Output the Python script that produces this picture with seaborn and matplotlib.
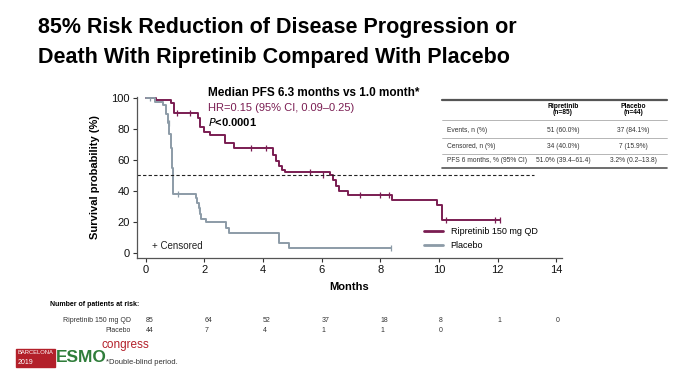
import numpy as np
import pandas as pd
import matplotlib.pyplot as plt
import matplotlib.transforms as mtransforms
from matplotlib.lines import Line2D
from matplotlib.patches import Rectangle
import seaborn as sns

# KM step points (time in months, survival %)
rip_t = [0, 0.35, 0.85, 0.95, 1.77, 1.85, 2.0, 2.2, 2.7, 3.0, 4.35, 4.45, 4.55,
         4.65, 4.75, 6.3, 6.4, 6.5, 6.6, 6.9, 8.4, 9.95, 10.1, 12.1]
rip_s = [100, 98.8, 96.5, 90.5, 87, 81, 78, 76, 71, 68, 63, 59, 56,
         53.5, 52, 50, 47, 43, 40, 37.5, 34, 31, 21, 21]
rip_cens_t = [1.05, 1.5, 3.6, 4.1, 5.6, 6.05, 7.3, 8.0, 8.3, 10.25, 11.9, 12.1]
rip_cens_s = [90.5, 90.5, 68, 68, 52, 50, 37.5, 37.5, 37.5, 21, 21, 21]

pla_t = [0, 0.3, 0.6, 0.7, 0.75, 0.8, 0.85, 0.9, 0.93, 1.7, 1.75, 1.8, 1.85,
         1.9, 2.05, 2.72, 2.83, 4.53, 4.9, 8.35]
pla_s = [100, 97.7, 95.4, 90, 84, 77, 68, 55, 38, 35.5, 32, 29, 25,
         22, 19.5, 16, 13, 6.5, 3.2, 3.2]
pla_cens_t = [0.15, 0.78, 1.1, 1.8, 8.35]
pla_cens_s = [100, 84, 38, 29, 3.2]

months = [0, 2, 4, 6, 8, 10, 12, 14]
risk_rip = ["85", "64", "52", "37", "18", "8", "1", "0"]
risk_pla = ["44", "7", "4", "1", "1", "0"]

tbl_rows = ["Events, n (%)", "Censored, n (%)", "PFS 6 months, % (95% CI)"]
tbl_rip = ["51 (60.0%)", "34 (40.0%)", "51.0% (39.4\u201361.4)"]
tbl_pla = ["37 (84.1%)", "7 (15.9%)", "3.2% (0.2\u201313.8)"]

PURPLE = "#7a1d52"
GREY = "#8c9ba7"

sns.set_theme(style="ticks")
plt.rcParams["font.family"] = ["Liberation Sans", "DejaVu Sans"]
plt.rcParams["text.color"] = "black"
plt.rcParams["axes.labelcolor"] = "black"

fig = plt.figure(figsize=(6.8, 3.74), dpi=100)
W, H = 680, 374


def fx(px):
    return px / W


def fy(py):
    return 1 - py / H


ax = fig.add_axes([fx(137), fy(258), fx(562) - fx(137), fy(96.5) - fy(258)])

rip = pd.DataFrame({"t": rip_t, "s": rip_s})
pla = pd.DataFrame({"t": pla_t, "s": pla_s})
sns.lineplot(data=rip, x="t", y="s", drawstyle="steps-post", color=PURPLE,
             lw=1.4, ax=ax, label="Ripretinib 150 mg QD", estimator=None)
sns.lineplot(data=pla, x="t", y="s", drawstyle="steps-post", color=GREY,
             lw=1.4, ax=ax, label="Placebo", estimator=None)
sns.scatterplot(x=rip_cens_t, y=rip_cens_s, marker="|", s=22, color=PURPLE,
                linewidth=0.9, ax=ax, legend=False)
sns.scatterplot(x=pla_cens_t, y=pla_cens_s, marker="|", s=22, color=GREY,
                linewidth=0.9, ax=ax, legend=False)

ax.plot([-0.3, 13.25], [50, 50], ls=(0, (3, 2)), color="#222222", lw=0.8)

ax.set_xlim(-0.3, 14.2)
ax.set_ylim(-3.5, 101)
ax.set_xticks(months)
ax.set_yticks([0, 20, 40, 60, 80, 100])
ax.tick_params(labelsize=8, length=3, width=0.8, colors="#333333", pad=2)
ax.tick_params(labelcolor="#111111")
for sp in ["left", "bottom"]:
    ax.spines[sp].set_color("#555555")
    ax.spines[sp].set_linewidth(0.9)
sns.despine(ax=ax)
ax.set_xlabel("Months", fontsize=8, fontweight="bold", labelpad=5)
ax.set_ylabel("Survival probability (%)", fontsize=8, fontweight="bold", labelpad=8)

leg = ax.legend(loc="lower left", bbox_to_anchor=(0.655, 0.0), frameon=False,
                fontsize=6.5, handlelength=2.2, labelspacing=0.5)
for h in leg.get_lines():
    h.set_linewidth(2)

ax.text(0.2, 2.5, "+ Censored", fontsize=7, color="#222222")

# annotations
fig.text(fx(208), fy(93), "Median PFS 6.3 months vs 1.0 month*", fontsize=8.5,
         fontweight="bold", va="center")
fig.text(fx(208), fy(108), "HR=0.15 (95% CI, 0.09\u20130.25)", fontsize=8,
         color=PURPLE, va="center")
fig.text(fx(208), fy(122), r"$\bf{\it{P}}$" + "<0.0001", fontsize=8,
         fontweight="bold", va="center")

# title
fig.text(fx(38), fy(27), "85% Risk Reduction of Disease Progression or",
         fontsize=15.5, fontweight="bold", va="center")
fig.text(fx(38), fy(57), "Death With Ripretinib Compared With Placebo",
         fontsize=15.5, fontweight="bold", va="center")

# table at upper right
for y, lw, c in [(100, 1.6, "#555555"), (120, 0.5, "#999999"), (138, 0.5, "#999999"),
                 (154, 0.5, "#999999"), (168, 1.2, "#555555")]:
    fig.add_artist(Line2D([fx(442), fx(667)], [fy(y), fy(y)], lw=lw, color=c))
fig.text(fx(563), fy(106), "Ripretinib", fontsize=4.8, fontweight="bold", ha="center", va="center")
fig.text(fx(563), fy(113), "(n=85)", fontsize=4.8, fontweight="bold", ha="center", va="center")
fig.text(fx(633), fy(106), "Placebo", fontsize=4.8, fontweight="bold", ha="center", va="center")
fig.text(fx(633), fy(113), "(n=44)", fontsize=4.8, fontweight="bold", ha="center", va="center")
for i, y in enumerate([130, 146, 161]):
    fig.text(fx(447), fy(y), tbl_rows[i], fontsize=4.8, va="center", color="#333333")
    fig.text(fx(563), fy(y), tbl_rip[i], fontsize=4.8, ha="center", va="center", color="#333333")
    fig.text(fx(633), fy(y), tbl_pla[i], fontsize=4.8, ha="center", va="center", color="#333333")

# number at risk
trans = mtransforms.blended_transform_factory(ax.transData, fig.transFigure)
fig.text(fx(50), fy(305), "Number of patients at risk:", fontsize=5, fontweight="bold",
         va="center")
fig.text(fx(131), fy(321), "Ripretinib 150 mg QD", fontsize=5, ha="right", va="center",
         color="#333333")
fig.text(fx(131), fy(331), "Placebo", fontsize=5, ha="right", va="center", color="#333333")
for m, v in zip(months, risk_rip):
    ax.text(m, fy(321), v, transform=trans, fontsize=5, va="center", color="#333333")
for m, v in zip(months, risk_pla):
    ax.text(m, fy(331), v, transform=trans, fontsize=5, va="center", color="#333333")

# congress logo
fig.add_artist(Rectangle((fx(16), fy(367)), fx(55) - fx(16), fy(349) - fy(367),
                         color="#b3202a", transform=fig.transFigure))
fig.text(fx(18), fy(353), "BARCELONA", fontsize=4.2, color="white", va="center")
fig.text(fx(18), fy(362), "2019", fontsize=5, color="white", va="center")
fig.text(fx(56), fy(358), "ESMO", fontsize=12.5, fontweight="bold", color="#2f7d3a",
         va="center")
fig.text(fx(101), fy(345), "congress", fontsize=8.5, color="#b3202a", va="center")
fig.text(fx(106), fy(362), "*Double-blind period.", fontsize=5.5, color="#333333",
         va="center")

fig.savefig("out.png", dpi=100)
